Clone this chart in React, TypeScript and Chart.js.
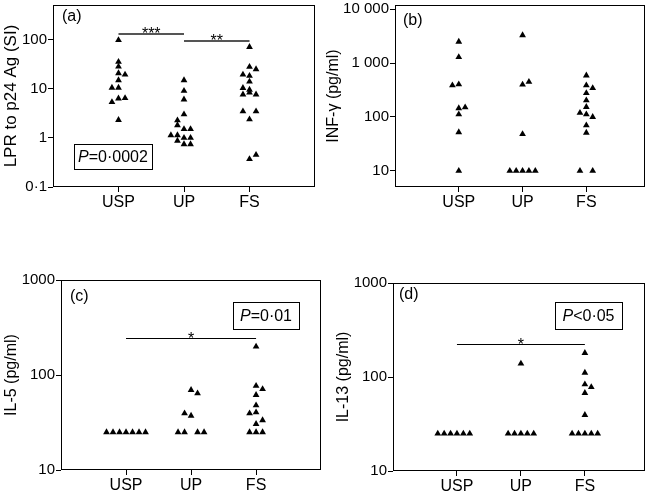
import React, { useEffect, useRef } from 'react';
import { Chart, registerables } from 'chart.js';

Chart.register(...registerables);

const FONT = "'Liberation Sans', Arial, Helvetica, sans-serif";
const categories = ['USP', 'UP', 'FS'];

// Panel (a): LPR to p24 Ag (SI)
const aTicks = [0.1, 1, 10, 100];
const aTickLabels = ['0·1', '1', '10', '100'];
const aUSP = [97, 35, 28, 20.5, 19.2, 14.8, 10.4, 10.4, 6.4, 6.3, 5.3, 2.3];
const aUSPdx = [0, 0, 0, 0, 0.1, 0, -0.1, 0, 0.1, 0, -0.1, 0];
const aUP = [14.8, 9, 6, 3, 2.26, 1.8, 1.5, 1.5, 1.13, 1.13, 1.0, 1.0, 0.87, 0.74, 0.74];
const aUPdx = [0, 0, 0, 0, -0.1, -0.1, 0, 0.1, -0.2, -0.1, 0, 0.1, -0.1, 0, 0.1];
const aFS = [70, 27.7, 24.8, 19.3, 18.1, 13.9, 10.3, 9.5, 8.3, 7.6, 7.6, 3.44, 3.44, 2.37, 0.37, 0.45];
const aFSdx = [0, 0, 0.1, -0.1, 0, 0, -0.1, 0, 0, -0.1, 0.1, -0.1, 0.1, 0, 0, 0.1];

// Panel (b): INF-γ (pg/ml)
const bTicks = [10, 100, 1000, 10000];
const bTickLabels = ['10', '100', '1 000', '10 000'];
const bUSP = [2500, 1290, 386, 403, 145, 151, 112, 52, 10];
const bUSPdx = [0, 0, -0.1, 0, 0, 0.1, 0, 0, 0];
const bUP = [3300, 400, 450, 48, 10, 10, 10, 10, 10];
const bUPdx = [0, 0, 0.1, 0, -0.2, -0.1, 0, 0.1, 0.2];
const bFS = [590, 386, 344, 278, 204, 153, 119, 112, 100, 70, 51, 10, 10];
const bFSdx = [0, 0, 0.1, 0, 0, 0, -0.1, 0, 0.1, 0, 0, -0.1, 0.1];

// Panel (c): IL-5 (pg/ml)
const cTicks = [10, 100, 1000];
const cTickLabels = ['10', '100', '1000'];
const cUSP = [25, 25, 25, 25, 25, 25, 25];
const cUSPdx = [-0.3, -0.2, -0.1, 0, 0.1, 0.2, 0.3];
const cUP = [69.5, 64, 39.5, 37.3, 25, 25, 25, 25];
const cUPdx = [0, 0.1, -0.1, 0, -0.2, -0.1, 0.1, 0.2];
const cFS = [199, 77, 71, 61.6, 48, 39.5, 40.5, 33.4, 30.5, 25, 25, 25];
const cFSdx = [0, 0, 0.1, 0, 0, -0.1, 0, 0.1, 0, -0.1, 0, 0.1];

// Panel (d): IL-13 (pg/ml)
const dTicks = [10, 100, 1000];
const dTickLabels = ['10', '100', '1000'];
const dUSP = [25, 25, 25, 25, 25, 25];
const dUSPdx = [-0.3, -0.2, -0.1, 0, 0.1, 0.2];
const dUP = [139, 25, 25, 25, 25, 25];
const dUPdx = [0, -0.2, -0.1, 0, 0.1, 0.2];
const dFS = [180, 111, 83.5, 78, 67.6, 39.4, 25, 25, 25, 25, 25];
const dFSdx = [0, 0, 0, 0.1, 0, 0, -0.2, -0.1, 0, 0.1, 0.2];

type Group = { values: number[]; dx: number[] };
type Sig = { from: number; to: number; value: number; text: string; color: string; width: number };
type PBox = { x: number; y: number; w: number; h: number; p: string; rest: string };
type PanelCfg = {
  left: number; top: number; w: number; h: number;
  padTop: number; padRight: number; yW: number; xH: number;
  xMax: number; yMin: number; yMax: number;
  ticks: number[]; tickLabels: string[];
  title: string; titleSize: number; titlePad: number;
  letter: string; letterX: number; letterY: number;
  groups: Group[]; sigs: Sig[]; pbox?: PBox;
};

const panels: PanelCfg[] = [
  {
    left: 0, top: 0, w: 325, h: 225, padTop: 5, padRight: 10, yW: 53, xH: 38,
    xMax: 4, yMin: 0.1, yMax: 500, ticks: aTicks, tickLabels: aTickLabels,
    title: 'LPR to p24 Ag (SI)', titleSize: 17, titlePad: 3,
    letter: '(a)', letterX: 9, letterY: 12,
    groups: [{ values: aUSP, dx: aUSPdx }, { values: aUP, dx: aUPdx }, { values: aFS, dx: aFSdx }],
    sigs: [
      { from: 1, to: 2, value: 126, text: '***', color: '#555', width: 2 },
      { from: 2, to: 3, value: 91, text: '**', color: '#555', width: 2 },
    ],
    pbox: { x: 21, y: 139, w: 78, h: 25, p: 'P', rest: '=0·0002' },
  },
  {
    left: 325, top: 0, w: 325, h: 225, padTop: 5, padRight: 5, yW: 70, xH: 38,
    xMax: 3.92, yMin: 5, yMax: 12000, ticks: bTicks, tickLabels: bTickLabels,
    title: 'INF-γ (pg/ml)', titleSize: 16, titlePad: 0.5,
    letter: '(b)', letterX: 8, letterY: 16,
    groups: [{ values: bUSP, dx: bUSPdx }, { values: bUP, dx: bUPdx }, { values: bFS, dx: bFSdx }],
    sigs: [],
  },
  {
    left: 0, top: 240, w: 325, h: 256, padTop: 40, padRight: 2, yW: 61, xH: 26,
    xMax: 4, yMin: 10, yMax: 1000, ticks: cTicks, tickLabels: cTickLabels,
    title: 'IL-5 (pg/ml)', titleSize: 16, titlePad: 3.7,
    letter: '(c)', letterX: 9, letterY: 17,
    groups: [{ values: cUSP, dx: cUSPdx }, { values: cUP, dx: cUPdx }, { values: cFS, dx: cFSdx }],
    sigs: [{ from: 1, to: 3, value: 243, text: '*', color: '#000', width: 1 }],
    pbox: { x: 172, y: 22, w: 66, h: 27, p: 'P', rest: '=0·01' },
  },
  {
    left: 325, top: 240, w: 325, h: 256, padTop: 43, padRight: 5, yW: 68, xH: 25,
    xMax: 3.94, yMin: 10, yMax: 1000, ticks: dTicks, tickLabels: dTickLabels,
    title: 'IL-13 (pg/ml)', titleSize: 16, titlePad: 10.3,
    letter: '(d)', letterX: 6, letterY: 12,
    groups: [{ values: dUSP, dx: dUSPdx }, { values: dUP, dx: dUPdx }, { values: dFS, dx: dFSdx }],
    sigs: [{ from: 1, to: 3, value: 226, text: '*', color: '#000', width: 1 }],
    pbox: { x: 162, y: 19, w: 67, h: 27, p: 'P', rest: '<0·05' },
  },
];

function toPoints(groups: Group[]) {
  return groups.flatMap((g, i) => g.values.map((v, j) => ({ x: i + 1 + g.dx[j], y: v })));
}

function Panel({ cfg }: { cfg: PanelCfg }) {
  const ref = useRef<HTMLCanvasElement>(null);
  useEffect(() => {
    const c = cfg;
    const annot = {
      id: 'annot',
      afterDraw(chart: any) {
        const { ctx, chartArea: a, scales } = chart;
        const xs = scales.x;
        const ys = scales.y;
        ctx.save();
        ctx.strokeStyle = '#000';
        ctx.lineWidth = 1;
        ctx.strokeRect(Math.round(a.left) + 0.5, Math.round(a.top) + 0.5,
          Math.round(a.right - a.left) - 1, Math.round(a.bottom - a.top) - 1);
        ctx.fillStyle = '#000';
        ctx.font = `16px ${FONT}`;
        ctx.textAlign = 'left';
        ctx.textBaseline = 'middle';
        ctx.fillText(c.letter, a.left + c.letterX, a.top + c.letterY);
        for (const s of c.sigs) {
          const y = Math.round(ys.getPixelForValue(s.value)) + (s.width === 1 ? 0.5 : 0);
          const x1 = xs.getPixelForValue(s.from);
          const x2 = xs.getPixelForValue(s.to);
          ctx.strokeStyle = s.color;
          ctx.lineWidth = s.width;
          ctx.beginPath();
          ctx.moveTo(x1, y);
          ctx.lineTo(x2, y);
          ctx.stroke();
          ctx.font = `16px ${FONT}`;
          ctx.textAlign = 'center';
          ctx.textBaseline = 'alphabetic';
          ctx.fillText(s.text, (x1 + x2) / 2, y + 5);
        }
        if (c.pbox) {
          const b = c.pbox;
          ctx.strokeStyle = '#000';
          ctx.lineWidth = 1;
          ctx.strokeRect(Math.round(a.left + b.x) + 0.5, Math.round(a.top + b.y) + 0.5, b.w, b.h);
          ctx.font = `italic 16px ${FONT}`;
          const wp = ctx.measureText(b.p).width;
          ctx.font = `16px ${FONT}`;
          const wr = ctx.measureText(b.rest).width;
          const x0 = a.left + b.x + (b.w - wp - wr) / 2;
          const yc = a.top + b.y + b.h / 2 + 1;
          ctx.textAlign = 'left';
          ctx.textBaseline = 'middle';
          ctx.font = `italic 16px ${FONT}`;
          ctx.fillText(b.p, x0, yc);
          ctx.font = `16px ${FONT}`;
          ctx.fillText(b.rest, x0 + wp, yc);
        }
        ctx.restore();
      },
    };
    const chart = new Chart(ref.current as HTMLCanvasElement, {
      type: 'scatter',
      data: {
        datasets: [{
          data: toPoints(c.groups),
          pointStyle: 'triangle',
          pointRadius: 3.9,
          pointHoverRadius: 3.9,
          backgroundColor: '#000',
          borderColor: '#000',
          borderWidth: 0,
        }],
      },
      options: {
        animation: false,
        responsive: false,
        maintainAspectRatio: false,
        events: [],
        layout: { padding: { left: 0, top: c.padTop, right: c.padRight, bottom: 0 } },
        plugins: { legend: { display: false }, tooltip: { enabled: false } },
        scales: {
          x: {
            type: 'linear',
            min: 0,
            max: c.xMax,
            afterBuildTicks: (s: any) => { s.ticks = categories.map((_, i) => ({ value: i + 1 })); },
            afterFit: (s: any) => { s.height = c.xH; s.paddingLeft = 0; s.paddingRight = 0; },
            ticks: {
              callback: (v: any) => categories[Math.round(Number(v)) - 1] ?? '',
              font: { family: FONT, size: 16 },
              color: '#000',
              padding: 1,
              maxRotation: 0,
              autoSkip: false,
            },
            grid: { display: true, drawOnChartArea: false, drawTicks: true, tickLength: 5, color: '#000' },
            border: { display: false },
          },
          y: {
            type: 'logarithmic',
            min: c.yMin,
            max: c.yMax,
            afterBuildTicks: (s: any) => { s.ticks = c.ticks.map((v) => ({ value: v })); },
            afterFit: (s: any) => { s.width = c.yW; s.paddingTop = 0; s.paddingBottom = 0; },
            ticks: {
              callback: (_v: any, i: number) => c.tickLabels[i] ?? '',
              font: { family: FONT, size: 15 },
              color: '#000',
              padding: 1,
              autoSkip: false,
            },
            grid: { display: true, drawOnChartArea: false, drawTicks: true, tickLength: 5, color: '#000' },
            border: { display: false },
            title: {
              display: true,
              text: c.title,
              color: '#000',
              font: { family: FONT, size: c.titleSize, lineHeight: 1 },
              padding: { top: c.titlePad, bottom: 0 },
            },
          },
        },
      },
      plugins: [annot],
    } as any);
    return () => chart.destroy();
  }, [cfg]);
  return (
    <canvas
      ref={ref}
      width={cfg.w}
      height={cfg.h}
      style={{ position: 'absolute', left: cfg.left, top: cfg.top, width: cfg.w, height: cfg.h }}
    />
  );
}

export default function App() {
  return (
    <div style={{ position: 'absolute', left: 0, top: 0, width: 650, height: 496, background: '#fff' }}>
      {panels.map((p, i) => <Panel key={i} cfg={p} />)}
    </div>
  );
}
